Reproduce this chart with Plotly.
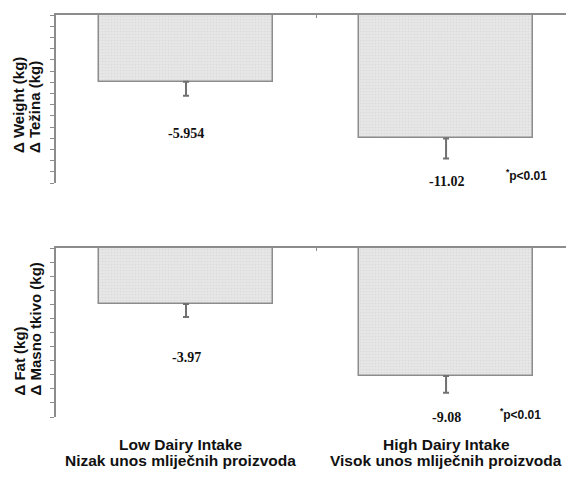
import plotly.graph_objects as go

categories = [["Low Dairy Intake", "Nizak unos mliječnih proizvoda"],
              ["High Dairy Intake", "Visok unos mliječnih proizvoda"]]
weight_change = [-5.954, -11.02]
weight_err = [1.26, 1.8]
fat_change = [-3.97, -9.08]
fat_err = [0.93, 1.2]
weight_labels = ["-5.954", "-11.02"]
fat_labels = ["-3.97", "-9.08"]
sig_label = "<sup>*</sup>p&lt;0.01"
weight_title = ["Δ Weight (kg)", "Δ Težina (kg)"]
fat_title = ["Δ Fat (kg)", "Δ Masno tkivo (kg)"]

# page body has an 8px default margin; size the figure to fill the rest
OFF = 8
W, H = 574 - OFF, 479 - OFF
L = 56 - OFF
PW = W - L


def py(p):  # window pixel y -> paper y
    return 1 - (p - OFF) / H


def px(p):  # window pixel x -> paper x
    return (p - OFF - L) / PW


xs = [0, 1]

fig = go.Figure()

bar_style = dict(
    width=0.67,
    marker=dict(color="#e2e2e2", line=dict(color="#8c8c8c", width=1.5),
                pattern=dict(shape=".", size=3, solidity=0.25,
                             fgcolor="#cfcfcf", bgcolor="#e6e6e6")),
    showlegend=False, hoverinfo="skip",
)
err_style = dict(type="data", symmetric=False, color="#707070",
                 thickness=2, width=3)

fig.add_trace(go.Bar(x=xs, y=weight_change, xaxis="x", yaxis="y",
                     error_y=dict(array=[0, 0], arrayminus=weight_err, **err_style),
                     **bar_style))
fig.add_trace(go.Bar(x=xs, y=fat_change, xaxis="x2", yaxis="y2",
                     error_y=dict(array=[0, 0], arrayminus=fat_err, **err_style),
                     **bar_style))

xr = [-0.5, 1.492]
xaxis_common = dict(range=xr, side="top", showline=True, linecolor="#8c8c8c",
                    linewidth=1.5, tickvals=[0.5], ticks="inside", ticklen=3,
                    tickcolor="#8c8c8c", showticklabels=False, showgrid=False,
                    zeroline=False, fixedrange=True)
yaxis_common = dict(showline=True, linecolor="#8c8c8c", linewidth=1.5,
                    ticks="outside", ticklen=4, tickcolor="#8c8c8c",
                    showticklabels=False, showgrid=False, zeroline=False,
                    dtick=1, tick0=0)

fig.update_layout(
    width=W, height=H,
    margin=dict(l=L, r=0, t=0, b=0),
    plot_bgcolor="white", paper_bgcolor="white",
    xaxis=dict(domain=[0, 1], anchor="y", **xaxis_common),
    yaxis=dict(domain=[py(183), py(15)], range=[-15, 0], anchor="x",
               **yaxis_common),
    xaxis2=dict(domain=[0, 1], anchor="y2", **xaxis_common),
    yaxis2=dict(domain=[py(417), py(248)], range=[-12, 0], anchor="x2",
                **yaxis_common),
    bargap=0,
)

ink = "#111111"
serif = dict(family="Liberation Serif", size=14, color=ink, weight="bold")
sans_small = dict(family="Liberation Sans", size=12, color=ink, weight="bold")
sans = dict(family="Liberation Sans", size=15.5, color=ink, weight="bold")
title_font = dict(family="Liberation Sans", size=15, color=ink, weight="bold")

# value labels (positions below bars)
weight_label_y = [-10.55, -14.9]
fat_label_y = [-7.75, -12.0]
for i in range(2):
    fig.add_annotation(x=xs[i], y=weight_label_y[i], xref="x", yref="y",
                       text=weight_labels[i], showarrow=False, font=serif)
    fig.add_annotation(x=xs[i], y=fat_label_y[i], xref="x2", yref="y2",
                       text=fat_labels[i], showarrow=False, font=serif)

fig.add_annotation(x=1.31, y=-14.3, xref="x", yref="y", text=sig_label,
                   showarrow=False, font=sans_small)
fig.add_annotation(x=1.285, y=-11.8, xref="x2", yref="y2", text=sig_label,
                   showarrow=False, font=sans_small)

# y-axis titles (one annotation per line, aligned at their start)
title_x = [19, 35]
for j in range(2):
    fig.add_annotation(x=px(title_x[j]), y=py(155), xref="paper", yref="paper",
                       text=weight_title[j], textangle=-90, showarrow=False,
                       xanchor="center", yanchor="bottom", font=title_font)
    fig.add_annotation(x=px(title_x[j]), y=py(398), xref="paper", yref="paper",
                       text=fat_title[j], textangle=-90, showarrow=False,
                       xanchor="center", yanchor="bottom", font=title_font)

# category labels
cat_x = [-0.02, 1.0]
line_y = [455, 471]
for i in range(2):
    for j in range(2):
        fig.add_annotation(x=cat_x[i], y=py(line_y[j]), xref="x2", yref="paper",
                           text=categories[i][j], showarrow=False, font=sans)

fig.write_html("out.html")
